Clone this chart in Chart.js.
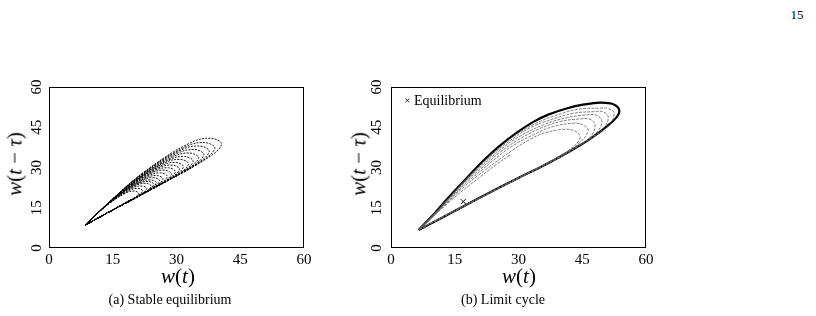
<!DOCTYPE html>
<html>
<head>
<meta charset="utf-8">
<script src="https://cdn.jsdelivr.net/npm/chart.js@4.4.1/dist/chart.umd.min.js"></script>
<style>
  body { margin: 0; background: #fff; width: 816px; height: 316px; overflow: hidden; position: relative; font-family: "Liberation Serif", serif; color: #000; }
  .box { position: absolute; top: 80px; width: 330px; height: 200px; }
  .t { position: absolute; white-space: nowrap; transform: translate(-50%, -50%); color: #000; }
  .ax { font-size: 21px; }
  .cap { font-size: 14px; }
</style>
</head>
<body>
<div class="t" style="left:797px;top:15px;font-size:13px;">15</div>

<div class="box" style="left:0px;"><canvas id="stable" width="330" height="200"></canvas></div>
<div class="box" style="left:342px;"><canvas id="cycle" width="330" height="200"></canvas></div>

<div class="t ax" style="left:15px;top:164px;transform:translate(-50%,-50%) rotate(-90deg);"><i>w</i>(<i>t</i> − <i>τ</i>)</div>
<div class="t ax" style="left:359px;top:164px;transform:translate(-50%,-50%) rotate(-90deg);"><i>w</i>(<i>t</i> − <i>τ</i>)</div>
<div class="t ax" style="left:178px;top:276px;"><i>w</i>(<i>t</i>)</div>
<div class="t ax" style="left:519px;top:276px;"><i>w</i>(<i>t</i>)</div>
<div class="t cap" style="left:170px;top:300px;">(a) Stable equilibrium</div>
<div class="t cap" style="left:503px;top:300px;">(b) Limit cycle</div>
<div class="t" style="left:443px;top:101px;font-size:14px;"><span style="font-size:11px;position:relative;top:-1px;">×</span> Equilibrium</div>

<script>
// axes
var xTicks = [0, 15, 30, 45, 60];
var yTicks = [0, 15, 30, 45, 60];

// (a) stable equilibrium : one loop per array, all from the lower-left tip
var stableLoops = [
  [[8.6,8.6],[24.0,22.0],[36.0,32.2],[40.6,38.5],[38.1,40.9],[33.0,39.0],[23.0,29.1],[15.1,18.5],[8.6,8.6]],
  [[8.6,8.6],[23.2,21.3],[34.6,31.0],[39.0,37.0],[36.6,39.3],[31.8,37.5],[22.3,28.1],[14.8,18.0],[8.6,8.6]],
  [[8.6,8.6],[22.6,20.8],[33.5,30.1],[37.7,35.8],[35.4,38.0],[30.8,36.3],[21.7,27.3],[14.5,17.6],[8.6,8.6]],
  [[8.6,8.6],[22.0,20.3],[32.4,29.1],[36.4,34.6],[34.3,36.7],[29.8,35.0],[21.1,26.4],[14.3,17.2],[8.6,8.6]],
  [[8.6,8.6],[21.4,19.7],[31.3,28.2],[35.2,33.4],[33.1,35.4],[28.9,33.8],[20.6,25.6],[14.0,16.8],[8.6,8.6]],
  [[8.6,8.6],[20.8,19.2],[30.2,27.2],[33.9,32.2],[31.9,34.1],[27.9,32.6],[20.0,24.8],[13.7,16.4],[8.6,8.6]],
  [[8.6,8.6],[20.2,18.7],[29.3,26.4],[32.8,31.2],[30.9,33.0],[27.0,31.6],[19.5,24.1],[13.5,16.1],[8.6,8.6]],
  [[8.6,8.6],[19.7,18.3],[28.3,25.6],[31.6,30.1],[29.8,31.9],[26.2,30.5],[19.0,23.4],[13.3,15.7],[8.6,8.6]],
  [[8.6,8.6],[19.2,17.9],[27.5,24.9],[30.7,29.2],[29.0,30.9],[25.4,29.6],[18.5,22.8],[13.1,15.4],[8.6,8.6]],
  [[8.6,8.6],[18.8,17.4],[26.7,24.2],[29.7,28.3],[28.1,29.9],[24.7,28.7],[18.1,22.1],[12.9,15.1],[8.6,8.6]],
  [[8.6,8.6],[18.3,17.0],[25.9,23.5],[28.8,27.4],[27.2,29.0],[24.0,27.8],[17.7,21.5],[12.7,14.8],[8.6,8.6]],
  [[8.6,8.6],[17.8,16.6],[25.0,22.8],[27.8,26.5],[26.3,28.0],[23.2,26.8],[17.2,20.9],[12.5,14.5],[8.6,8.6]],
  [[8.6,8.6],[17.4,16.2],[24.2,22.1],[26.8,25.6],[25.4,27.0],[22.5,25.9],[16.8,20.3],[12.3,14.2],[8.6,8.6]],
  [[8.6,8.6],[17.0,15.9],[23.5,21.5],[26.0,24.9],[24.7,26.2],[21.9,25.2],[16.5,19.8],[12.1,14.0],[8.6,8.6]],
  [[8.6,8.6],[16.6,15.6],[22.9,20.9],[25.2,24.2],[23.9,25.4],[21.3,24.4],[16.1,19.3],[12.0,13.8],[8.6,8.6]],
  [[8.6,8.6],[16.3,15.3],[22.3,20.4],[24.6,23.6],[23.4,24.8],[20.8,23.8],[15.8,18.9],[11.9,13.6],[8.6,8.6]],
  [[8.6,8.6],[16.0,15.0],[21.8,19.9],[24.0,23.0],[22.8,24.1],[20.3,23.2],[15.5,18.4],[11.7,13.4],[8.6,8.6]],
  [[8.6,8.6],[15.5,14.6],[20.9,19.2],[23.0,22.1],[21.9,23.1],[19.6,22.3],[15.1,17.8],[11.5,13.1],[8.6,8.6]],
  [[8.6,8.6],[15.1,14.2],[20.1,18.5],[22.0,21.2],[21.0,22.2],[18.9,21.4],[14.7,17.2],[11.3,12.8],[8.6,8.6]],
  [[8.6,8.6],[14.6,13.8],[19.3,17.8],[21.1,20.3],[20.1,21.2],[18.1,20.5],[14.2,16.6],[11.1,12.5],[8.6,8.6]]
];

// (b) limit cycle : transient loops growing outwards, then the cycle itself
var transientLoops = [
  [[28,34.7],[24.5,30.8],[21,26.5],[17.5,22.2],[14,17.6],[10,11.8],[6.6,6.9]],
  [[6.6,6.9],[17,15.5],[29.6,25.8],[35,30],[39.5,34.2],[42.8,37.6],[44.5,41.2],[43.3,43.6],[40.5,44.2],[36,42.8],[32.5,40.3],[29.6,37.5],[25.5,33],[21.7,28.5],[17.5,23.3],[14,18],[10,12],[6.6,6.9]],
  [[6.6,6.9],[17,15.5],[29.6,25.8],[37,31.8],[42,36.4],[45,40.2],[46.4,44],[45,46],[42.9,46.5],[38,45.2],[33.5,42.2],[29.6,39],[25.5,34.5],[21.7,29.5],[17.5,24],[14,18.3],[10,12.1],[6.6,6.9]],
  [[6.6,6.9],[17,15.5],[29.6,25.8],[39.8,34.2],[44,37.9],[47,41.6],[48,45.8],[46.8,48],[44.5,48.1],[40,47.2],[35,44.5],[29.6,40],[25.5,35.5],[21.7,30.3],[17.5,24.6],[14,18.7],[10,12.2],[6.6,6.9]],
  [[6.6,6.9],[17,15.5],[29.6,25.8],[39.8,34],[44,38],[47,41.2],[48.9,44],[49.6,47.4],[48.3,49.5],[46,49.6],[41.5,48.6],[36,46],[29.6,41],[25.5,36.3],[21.7,31],[17.5,25],[14,19],[10,12.3],[6.6,6.9]],
  [[6.6,6.9],[17,15.5],[29.6,25.8],[39.8,34],[44,38],[47.5,41.5],[50.2,45],[51.1,48.9],[49.8,50.8],[47.6,50.8],[43,50.2],[37,47.5],[33,45],[29.6,41.8],[25.5,37],[21.7,31.6],[17.5,25.3],[14,19.2],[10,12.4],[6.6,6.9]],
  [[6.6,6.9],[17,15.5],[29.6,25.8],[39.8,34],[44,38],[47.8,41.6],[51.2,45.6],[52.5,50.2],[51,52],[48.8,52.1],[44,51.7],[38,49],[33.5,46],[29.6,42.4],[25.5,37.5],[21.7,32],[17.5,25.4],[14,19.3],[10,12.4],[6.6,6.9]]
];
var limitCycle = [[6.5,6.7],[12,11.3],[17,15.5],[23,20.5],[29.6,25.8],[35,30],[39.8,34],[43,36.9],[46.5,40.3],[50.2,44.6],[53,48.6],[53.7,51.4],[52.3,53.6],[49.2,54.2],[45.5,53.5],[41.3,52],[37,49.7],[33.5,47],[29.6,43],[25.5,38],[21.7,32.5],[17.5,25.5],[13.9,19.5],[10,12.5],[6.5,6.7]];
var equilibrium = [17, 17.3];

var serif = '"Liberation Serif", "Times New Roman", serif';

function pts(arr) {
  return arr.map(function (p) { return { x: p[0], y: p[1] }; });
}

// frame round the plot and rotated y tick labels
function framePlugin(labelGap) {
  return {
    id: 'frame',
    afterDraw: function (chart) {
      var c = chart.ctx, a = chart.chartArea, ys = chart.scales.y;
      c.save();
      c.strokeStyle = '#000';
      c.lineWidth = 1;
      c.strokeRect(a.left + 0.5, a.top + 0.5, a.right - a.left - 1, a.bottom - a.top - 1);
      c.fillStyle = '#000';
      c.font = '15px ' + serif;
      c.textAlign = 'center';
      c.textBaseline = 'middle';
      yTicks.forEach(function (v) {
        c.save();
        c.translate(a.left - labelGap, ys.getPixelForValue(v));
        c.rotate(-Math.PI / 2);
        c.fillText(String(v), 0, 0);
        c.restore();
      });
      c.restore();
    }
  };
}

function makeOptions() {
  return {
    responsive: false,
    animation: false,
    layout: { padding: { top: 7, right: 26, left: 0, bottom: 0 } },
    plugins: { legend: { display: false }, tooltip: { enabled: false } },
    scales: {
      x: {
        type: 'linear', min: 0, max: 60,
        afterBuildTicks: function (s) { s.ticks = xTicks.map(function (v) { return { value: v }; }); },
        afterFit: function (s) { s.height = 32; },
        ticks: { color: '#000', padding: 3, maxRotation: 0, font: { family: serif, size: 15 } },
        grid: { display: false, drawTicks: false },
        border: { display: false }
      },
      y: {
        type: 'linear', min: 0, max: 60,
        afterBuildTicks: function (s) { s.ticks = yTicks.map(function (v) { return { value: v }; }); },
        afterFit: function (s) { s.width = 49; },
        ticks: { display: false },
        grid: { display: false, drawTicks: false },
        border: { display: false }
      }
    }
  };
}

document.addEventListener('DOMContentLoaded', function () {
  var stableSets = stableLoops.map(function (loop) {
    return {
      data: pts(loop), showLine: true, tension: 0.4,
      borderColor: '#000', borderWidth: 0.9, borderDash: [2, 1.2],
      pointRadius: 0, fill: false
    };
  });
  new Chart(document.getElementById('stable'), {
    type: 'scatter',
    data: { datasets: stableSets },
    options: makeOptions(),
    plugins: [framePlugin(12)]
  });

  var cycleSets = transientLoops.map(function (loop) {
    return {
      data: pts(loop), showLine: true, tension: 0.4,
      borderColor: 'rgb(95,95,95)', borderWidth: 0.8, borderDash: [3, 1.2],
      pointRadius: 0, fill: false
    };
  });
  cycleSets.push({
    data: pts(limitCycle), showLine: true, tension: 0.4,
    borderColor: '#000', borderWidth: 2.2, pointRadius: 0, fill: false
  });
  cycleSets.push({
    label: 'Equilibrium',
    data: [{ x: equilibrium[0], y: equilibrium[1] }],
    pointStyle: 'crossRot', pointRadius: 3.5, borderColor: '#000', borderWidth: 1, showLine: false
  });
  new Chart(document.getElementById('cycle'), {
    type: 'scatter',
    data: { datasets: cycleSets },
    options: makeOptions(),
    plugins: [framePlugin(14)]
  });
});
</script>
</body>
</html>
